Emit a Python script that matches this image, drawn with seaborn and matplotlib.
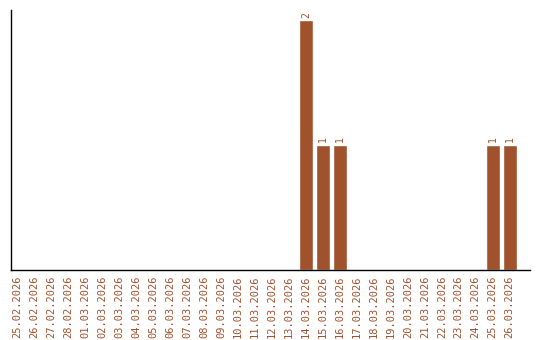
import matplotlib
matplotlib.use("Agg")
import matplotlib.pyplot as plt
import seaborn as sns
import pandas as pd

dates = ["25.02.2026", "26.02.2026", "27.02.2026", "28.02.2026", "01.03.2026",
         "02.03.2026", "03.03.2026", "04.03.2026", "05.03.2026", "06.03.2026",
         "07.03.2026", "08.03.2026", "09.03.2026", "10.03.2026", "11.03.2026",
         "12.03.2026", "13.03.2026", "14.03.2026", "15.03.2026", "16.03.2026",
         "17.03.2026", "18.03.2026", "19.03.2026", "20.03.2026", "21.03.2026",
         "22.03.2026", "23.03.2026", "24.03.2026", "25.03.2026", "26.03.2026"]
counts = [0, 0, 0, 0, 0, 0, 0, 0, 0, 0, 0, 0, 0, 0, 0, 0, 0, 2, 1, 1,
          0, 0, 0, 0, 0, 0, 0, 0, 1, 1]

color = "#A0522D"
sns.set_style("white")
plt.rcParams['font.family'] = ['DejaVu Sans Mono', 'DejaVu Sans']

df = pd.DataFrame({"date": dates, "count": counts})
fig = plt.figure(figsize=(5.4, 3.4), dpi=100)
ax = fig.add_axes([11/540, 1 - 270/340, 519/540, 260/340])
sns.barplot(data=df, x="date", y="count", color=color, saturation=1, width=0.83, ax=ax)

for i, v in enumerate(counts):
    if v > 0:
        ax.text(i, v + 0.02, str(v), rotation=90, ha="center", va="bottom",
                color=color, fontsize=7)

ax.set_xlim(-0.39, 30.2)
ax.set_ylim(0, 2.08)
ax.set_xlabel("")
ax.set_ylabel("")
ax.set_yticks([])
ax.tick_params(axis="x", length=0, pad=4, labelsize=7.5, labelcolor=color)
for lbl in ax.get_xticklabels():
    lbl.set_rotation(90)
for s in ["top", "right"]:
    ax.spines[s].set_visible(False)
for s in ["left", "bottom"]:
    ax.spines[s].set_color("black")
    ax.spines[s].set_linewidth(1)

fig.savefig("out.png", dpi=100)
